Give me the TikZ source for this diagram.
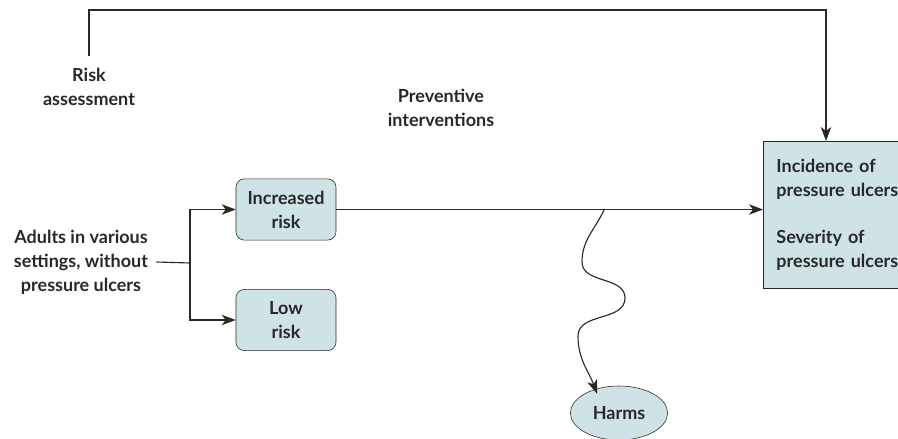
\documentclass[tikz,border=0pt]{standalone}
\usepackage{fontspec}
\setsansfont{Lato}
\usetikzlibrary{arrows.meta,positioning,calc,shapes.geometric}
\definecolor{BoxFill}{RGB}{207,227,230}
\definecolor{Ink}{RGB}{40,40,40}

\begin{document}
\begin{tikzpicture}[
    x=0.025cm, y=-0.025cm,
    font=\sffamily\bfseries\fontsize{12.8}{17}\selectfont,
    lbl/.style={align=center, text=Ink, inner sep=1pt},
    riskbox/.style={draw=Ink, rounded corners=6pt, fill=BoxFill, align=center, text=Ink,
      minimum width=2.5cm, minimum height=1.53cm},
    outbox/.style={draw=Ink, fill=BoxFill, align=left, text=Ink, anchor=north west,
      text width=3.6cm, minimum height=3.68cm, inner xsep=0.33cm},
    harmnode/.style={draw=Ink, ellipse, fill=BoxFill, text=Ink,
      minimum width=2.43cm, minimum height=1.35cm},
    arr/.style={-{Stealth[length=3.5mm, width=2.6mm, inset=1mm]}, line width=0.8pt, draw=Ink},
    ln/.style={line width=0.8pt, draw=Ink}
  ]
    \useasboundingbox (0,0) rectangle (898,439);
    \node[lbl, inner xsep=0.2cm] (adults) at (81,262) {Adults in various\\settings, without\\pressure ulcers};
    \node[riskbox] (incr) at (286,209.5) {Increased\\risk};
    \node[riskbox] (low) at (286,320) {Low\\risk};
    \node[outbox] (outc) at (763,141) {Incidence of\\pressure ulcers\\[17pt]Severity of\\pressure ulcers};
    \node[harmnode] (harms) at (619,413) {Harms};
    \node[lbl, inner ysep=0.3cm] (risk) at (89,86.5) {Risk\\assessment};
    \node[lbl] (prev) at (441,108) {Preventive\\interventions};
    \coordinate (split) at (190,263);
    \coordinate (topR) at (826,10);
    \coordinate (wave) at (604,210);
    \draw[ln] (adults.east) -- (split);
    \draw[arr] (split) |- (incr.west);
    \draw[arr] (split) |- (low.west);
    \draw[arr] (incr.east) -- (incr.east -| outc.west);
    \draw[arr] (risk.north) |- (topR) -- (topR |- outc.north);
    \draw[arr] (wave) to[out=-115, in=90] (582,262) to[out=-90, in=90] (625,298)
      to[out=-90, in=90] (578,336) to[out=-90, in=110] (harms.north west -| 597,0);
  \end{tikzpicture}
\end{document}
